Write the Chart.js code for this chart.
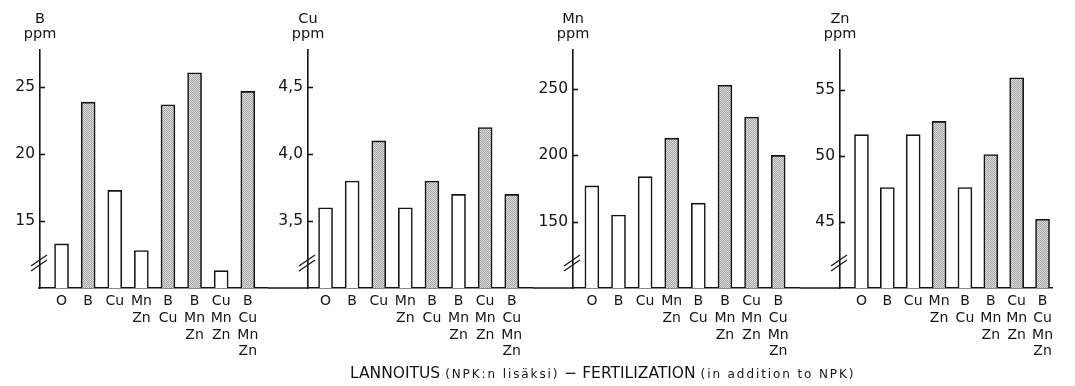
<!DOCTYPE html>
<html>
<head>
<meta charset="utf-8">
<script src="https://cdn.jsdelivr.net/npm/chart.js@4/dist/chart.umd.min.js"></script>
<style>
  body { margin: 0; background: #fff; }
  #wrap { position: relative; width: 1075px; height: 386px; overflow: hidden; font-family: "DejaVu Sans", sans-serif; color: #151515; }
  canvas { position: absolute; top: 0; }
  #xtitle { position: absolute; left: 350px; top: 364px; white-space: nowrap; font-size: 15.5px; }
  #xtitle .small { font-size: 12px; letter-spacing: 1.9px; }
</style>
</head>
<body>
<div id="wrap">
  <canvas id="chartB" width="268" height="386" style="left:0px"></canvas>
  <canvas id="chartCu" width="265" height="386" style="left:268px"></canvas>
  <canvas id="chartMn" width="267" height="386" style="left:533px"></canvas>
  <canvas id="chartZn" width="258" height="386" style="left:800px"></canvas>
  <div id="xtitle">LANNOITUS <span class="small">(NPK:n lisäksi)</span> − FERTILIZATION <span class="small">(in addition to NPK)</span></div>
</div>
<script>
// treatments (fertilization in addition to NPK)
var categories = [['O'], ['B'], ['Cu'], ['Mn', 'Zn'], ['B', 'Cu'], ['B', 'Mn', 'Zn'], ['Cu', 'Mn', 'Zn'], ['B', 'Cu', 'Mn', 'Zn']];

var boronValues = [13.3, 23.9, 17.3, 12.8, 23.7, 26.1, 11.3, 24.7];
var copperValues = [3.6, 3.8, 4.1, 3.6, 3.8, 3.7, 4.2, 3.7];
var manganeseValues = [177, 155, 184, 213, 164, 253, 229, 200];
var zincValues = [51.6, 47.6, 51.6, 52.6, 47.6, 50.1, 55.9, 45.2];

var boronTicks = [15, 20, 25];
var copperTicks = [3.5, 4.0, 4.5];
var copperTickLabels = ['3,5', '4,0', '4,5'];
var manganeseTicks = [150, 200, 250];
var zincTicks = [45, 50, 55];

Chart.defaults.font.family = '"DejaVu Sans", sans-serif';
Chart.defaults.color = '#151515';
Chart.defaults.animation = false;

function makeStipple(dark, light) {
    var c = document.createElement('canvas');
    c.width = 2;
    c.height = 2;
    var g = c.getContext('2d');
    g.fillStyle = light;
    g.fillRect(0, 0, 2, 2);
    g.fillStyle = dark;
    g.fillRect(0, 0, 1, 1);
    g.fillRect(1, 1, 1, 1);
    return g.createPattern(c, 'repeat');
}

var stipple = makeStipple('#a4a4a4', '#dedede');

// axis title, inward tick marks, axis break and baseline joining the panels
var panelDecor = {
    id: 'panelDecor',
    afterDraw: function (chart) {
        var ctx = chart.ctx;
        var area = chart.chartArea;
        var y = chart.scales.y;
        var opts = chart.options.plugins.panelDecor;
        ctx.save();
        ctx.strokeStyle = '#151515';
        ctx.lineWidth = 1.6;

        ctx.beginPath();
        ctx.moveTo(opts.baseFrom, area.bottom);
        ctx.lineTo(area.left, area.bottom);
        ctx.stroke();

        y.ticks.forEach(function (t) {
            var py = Math.round(y.getPixelForValue(t.value)) + 0.5;
            ctx.beginPath();
            ctx.moveTo(area.left, py);
            ctx.lineTo(area.left + 5, py);
            ctx.stroke();
        });

        ctx.lineWidth = 1.2;
        [0, 5].forEach(function (d) {
            ctx.beginPath();
            ctx.moveTo(area.left - 9, area.bottom - 17 - d);
            ctx.lineTo(area.left + 7, area.bottom - 28 - d);
            ctx.stroke();
        });

        ctx.fillStyle = '#151515';
        ctx.font = '14.5px "DejaVu Sans"';
        ctx.textAlign = 'center';
        ctx.fillText(opts.element, area.left, 23);
        ctx.fillText('ppm', area.left, 38);
        ctx.restore();
    }
};

function DrawPanel(canvasId, element, values, ticks, tickLabels, yMin, yMax, xMin, xMax, baseFrom) {

    var ctx = document.getElementById(canvasId).getContext('2d');

    var points = [];
    var fills = [];
    values.forEach(function (v, i) {
        points.push({ x: i, y: v });
        fills.push(categories[i].indexOf(element) >= 0 ? stipple : '#ffffff');
    });

    return new Chart(ctx, {
        type: 'bar',
        data: {
            datasets: [{
                data: points,
                backgroundColor: fills,
                borderColor: '#151515',
                borderWidth: 1.6,
                borderSkipped: 'bottom',
                barThickness: 14
            }]
        },
        options: {
            responsive: false,
            layout: { padding: { top: 50, right: 0, bottom: 0, left: 0 } },
            plugins: {
                legend: { display: false },
                tooltip: { enabled: false },
                panelDecor: { element: element, baseFrom: baseFrom }
            },
            scales: {
                x: {
                    type: 'linear',
                    offset: false,
                    min: xMin,
                    max: xMax,
                    grid: { display: false, drawTicks: false },
                    border: { display: true, color: '#151515', width: 1.6 },
                    afterBuildTicks: function (scale) {
                        scale.ticks = categories.map(function (c, i) { return { value: i }; });
                    },
                    afterFit: function (scale) { scale.height = 98; },
                    ticks: {
                        autoSkip: false,
                        maxRotation: 0,
                        padding: 5,
                        font: { size: 14, lineHeight: 1.2 },
                        callback: function (value) { return categories[value]; }
                    }
                },
                y: {
                    min: yMin,
                    max: yMax,
                    grid: { display: false, drawTicks: false },
                    border: { display: true, color: '#151515', width: 1.6 },
                    afterBuildTicks: function (scale) {
                        scale.ticks = ticks.map(function (t) { return { value: t }; });
                    },
                    afterFit: function (scale) { scale.width = 40; },
                    ticks: {
                        padding: 5,
                        font: { size: 15.5 },
                        callback: function (value, index) {
                            return tickLabels ? tickLabels[index] : String(value);
                        }
                    }
                }
            }
        },
        plugins: [panelDecor]
    });
}

DrawPanel('chartB', 'B', boronValues, boronTicks, null, 10, 27.8, -0.81, 7.76, 38);
DrawPanel('chartCu', 'Cu', copperValues, copperTicks, copperTickLabels, 3.0, 4.78, -0.66, 7.8, 0);
DrawPanel('chartMn', 'Mn', manganeseValues, manganeseTicks, null, 100, 279.5, -0.71, 7.82, 0);
DrawPanel('chartZn', 'Zn', zincValues, zincTicks, null, 40, 58, -0.83, 7.37, 0);
</script>
</body>
</html>
